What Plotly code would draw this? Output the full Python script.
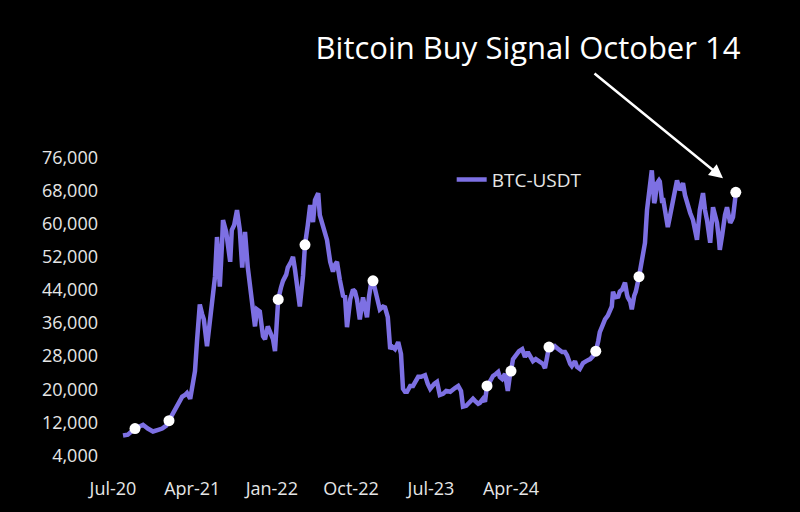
import plotly.graph_objects as go

# BTC-USDT closes, x in days from the first point
days = [0, 12, 30, 42, 50, 62, 75, 88, 98, 108, 115, 122, 130, 140, 148, 155, 160, 168, 175, 180,
        185, 192, 198, 202, 210, 218, 225, 230, 235, 240, 242, 248, 250, 258, 262, 268, 272, 278, 285, 292,
        298, 305, 312, 318, 322, 330, 335, 342, 350, 355, 362, 368, 375, 380, 388, 395, 400, 408, 412, 420,
        425, 430, 435, 442, 450, 455, 462, 468, 475, 480, 488, 492, 500, 505, 510, 518, 525, 530, 535, 542,
        550, 555, 560, 568, 575, 580, 585, 592, 600, 605, 610, 615, 620, 625, 632, 638, 642, 650, 655, 662,
        668, 672, 680, 688, 695, 700, 705, 710, 718, 725, 732, 738, 745, 755, 762, 768, 778, 785, 792, 800,
        808, 818, 830, 838, 845, 850, 858, 868, 875, 880, 888, 892, 900, 905, 910, 918, 925, 932, 938, 942,
        948, 955, 962, 968, 970, 975, 982, 990, 998, 1005, 1012, 1020, 1025, 1032, 1042, 1050, 1055, 1062, 1065, 1072,
        1080, 1088, 1098, 1105, 1110, 1118, 1122, 1130, 1135, 1142, 1150, 1158, 1168, 1175, 1182, 1188, 1192, 1200, 1205, 1212,
        1218, 1222, 1225, 1230, 1238, 1242, 1248, 1255, 1260, 1262, 1268, 1272, 1278, 1282, 1290, 1295, 1298, 1302, 1305, 1310,
        1315, 1320, 1322, 1328, 1330, 1335, 1340, 1342, 1348, 1350, 1355, 1360, 1362, 1368, 1372, 1380, 1385, 1392, 1400, 1405,
        1410, 1418, 1425, 1430, 1435, 1442, 1448, 1450, 1455, 1460, 1468, 1472, 1475, 1480, 1485, 1490, 1492, 1498, 1500, 1505,
        1510, 1515, 1518, 1522, 1525, 1530, 1532]
price = [8800, 9000, 10500, 11000, 11400, 10500, 9800, 10200, 10500, 11200, 12400, 13600, 15300, 16700, 18200, 18600, 19100, 17700, 22000, 24400,
         31600, 40500, 38100, 36900, 30400, 36400, 41700, 47200, 56800, 50100, 44800, 56100, 60900, 58000, 55400, 50800, 58500, 59700, 63300, 58500,
         49400, 58000, 49400, 44100, 39800, 35200, 39300, 38800, 32800, 32100, 35200, 33800, 32100, 29200, 41700, 44600, 46200, 47700, 49400, 50800,
         52000, 48900, 45800, 40000, 47400, 54900, 59700, 64500, 60400, 65700, 67400, 62100, 59400, 58000, 56100, 50800, 48400, 50100, 50800, 46500,
         42600, 42400, 35000, 41700, 44100, 43600, 41700, 36900, 42200, 39800, 37400, 42400, 45500, 46200, 43600, 41700, 39300, 40000, 39800, 37400,
         29700, 30400, 29700, 31400, 28500, 20100, 19400, 19400, 20800, 20800, 22000, 23000, 23000, 23400, 21300, 20100, 21300, 21800, 18600, 18900,
         19600, 19400, 20300, 20800, 19600, 15800, 16000, 17000, 17700, 17200, 16500, 16700, 17700, 17000, 20800, 22000, 23200, 23700, 24200, 23000,
         22500, 23700, 19600, 23900, 24400, 27300, 28200, 29200, 29700, 27800, 29000, 27500, 26800, 27300, 26600, 26100, 25100, 29200, 30200, 29700,
         30400, 29700, 29000, 29000, 28200, 26100, 25600, 26800, 25400, 24900, 26300, 26800, 27300, 28000, 29200, 31600, 33800, 35700, 36900, 37800,
         39300, 40000, 43600, 42200, 42400, 43600, 44100, 45800, 42900, 42200, 41200, 39300, 42600, 43600, 47200, 50100, 51300, 53700, 55400, 63300,
         68100, 71700, 72900, 65000, 65700, 69800, 70500, 70200, 65000, 66200, 62600, 60900, 59200, 62100, 64000, 66900, 70500, 68100, 69800, 66900,
         65000, 62600, 60900, 58000, 56100, 63300, 65700, 67400, 63300, 60900, 55400, 60900, 64000, 62100, 60200, 56100, 53700, 57300, 59200, 62100,
         64000, 62100, 60200, 60900, 61600, 65700, 67600]

# days on which a buy signal fired
signal_days = [30, 115, 388, 455, 625, 910, 970, 1065, 1182, 1290, 1532]
signal_price = [price[days.index(d)] for d in signal_days]

tick_days = [-25, 173, 372, 570, 770, 970]
tick_text = ["Jul-20", "Apr-21", "Jan-22", "Oct-22", "Jul-23", "Apr-24"]
y_ticks = [4000, 12000, 20000, 28000, 36000, 44000, 52000, 60000, 68000, 76000]

LINE = "#7d70e3"
TEXT = "#e6e6e6"
FONT = "Open Sans"

fig = go.Figure()
fig.add_trace(go.Scatter(
    x=days, y=price, mode="lines", name="BTC-USDT",
    line=dict(color=LINE, width=4.5),
))
fig.add_trace(go.Scatter(
    x=signal_days, y=signal_price, mode="markers", showlegend=False,
    marker=dict(color="white", size=11),
))

fig.add_annotation(
    x=1500, y=71000, ax=-130, ay=-106, text="",
    showarrow=True, arrowhead=2, arrowsize=1.1, arrowwidth=2.5, arrowcolor="white",
)

fig.update_layout(
    width=800, height=512,
    margin=dict(l=104, r=40, t=141, b=37),
    paper_bgcolor="black", plot_bgcolor="black",
    font=dict(family=FONT, color=TEXT, size=18),
    title=dict(text="Bitcoin Buy Signal October 14", x=0.66, y=0.906,
               xanchor="center", yanchor="middle",
               font=dict(family=FONT, size=31, color="white")),
    legend=dict(x=0.53, y=0.883, xanchor="left", yanchor="middle",
                bgcolor="rgba(0,0,0,0)", font=dict(size=19, color=TEXT)),
    xaxis=dict(range=[-47.5, 1592.5], tickvals=tick_days, ticktext=tick_text,
               showgrid=False, zeroline=False, showline=False, ticks="",
               ticklabelstandoff=4),
    yaxis=dict(range=[0, 80000], tickvals=y_ticks, tickformat=",d",
               showgrid=False, zeroline=False, showline=False, ticks="",
               ticklabelstandoff=5),
)

fig.write_html("out.html", config={"displayModeBar": False},
               post_script="document.body.style.margin='0';")
